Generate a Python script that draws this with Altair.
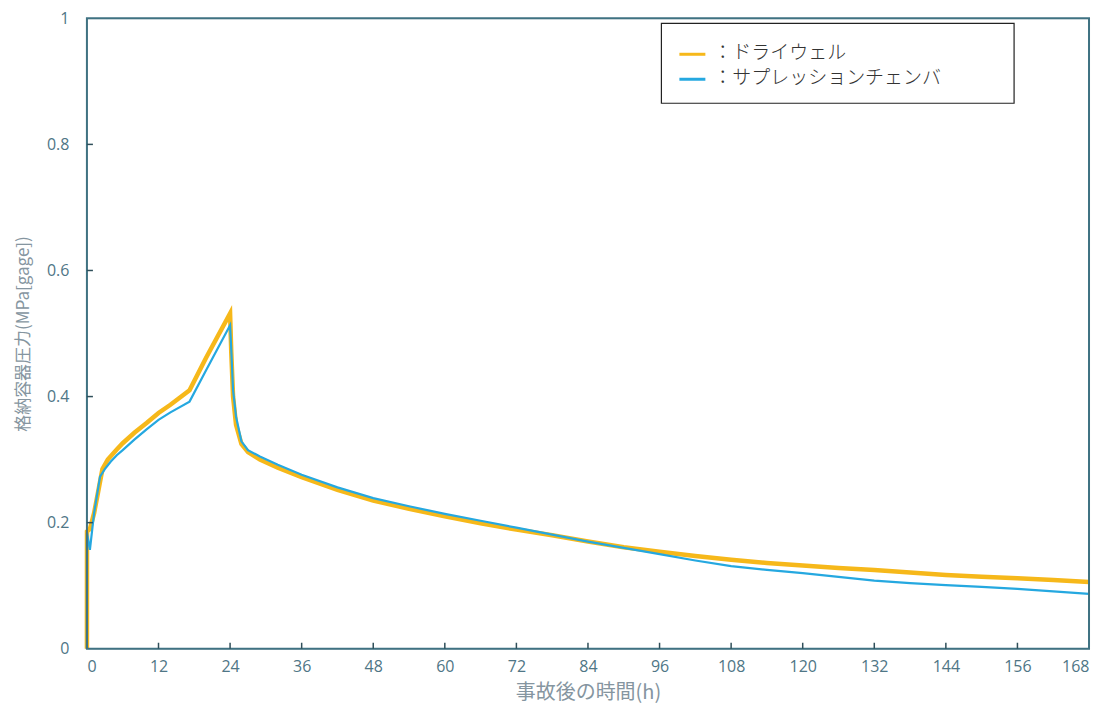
import altair as alt
import pandas as pd

# ---- data ----
series_names = ["ドライウェル", "サプレッションチェンバ"]
series_colors = ["#F6B81A", "#25A8E0"]

dw_t = [0, 0.01, 0.5, 1.2, 2.0, 2.6, 3.5, 5, 6, 8, 10, 12, 14, 17.2, 20, 24.0,
        24.2, 24.5, 25.0, 25.9, 27, 29, 32, 36, 42, 48, 54, 60, 66, 72, 78, 84,
        90, 96, 102, 108, 114, 120, 126, 132, 138, 144, 150, 156, 162, 168]
dw_v = [0, 0.186, 0.19, 0.215, 0.255, 0.285, 0.300, 0.316, 0.326, 0.343, 0.358, 0.374,
        0.387, 0.410, 0.462, 0.532,
        0.47, 0.40, 0.355, 0.325, 0.312, 0.300, 0.287, 0.272, 0.252, 0.235, 0.222,
        0.210, 0.199, 0.189, 0.180, 0.170, 0.161, 0.154, 0.147, 0.141, 0.136, 0.132,
        0.128, 0.125, 0.121, 0.117, 0.114, 0.112, 0.109, 0.106]

sc_t = [0, 0.01, 0.5, 1.2, 2.2, 3.0, 4, 5, 6, 8, 10, 12, 14, 17.2, 20, 24.0,
        24.2, 24.5, 25.0, 25.9, 27, 29, 32, 36, 42, 48, 54, 60, 66, 72, 78, 84,
        90, 96, 102, 108, 114, 120, 126, 132, 138, 144, 150, 156, 162, 168]
sc_v = [0, 0.184, 0.157, 0.215, 0.273, 0.285, 0.297, 0.307, 0.315, 0.332, 0.348, 0.363,
        0.375, 0.392, 0.442, 0.513,
        0.474, 0.41, 0.368, 0.329, 0.315, 0.305, 0.292, 0.276, 0.256, 0.239, 0.226,
        0.214, 0.203, 0.192, 0.181, 0.170, 0.160, 0.150, 0.140, 0.131, 0.125, 0.120,
        0.114, 0.108, 0.104, 0.101, 0.098, 0.095, 0.091, 0.087]

x_ticks = [0, 12, 24, 36, 48, 60, 72, 84, 96, 108, 120, 132, 144, 156, 168]
y_ticks = [0, 0.2, 0.4, 0.6, 0.8, 1.0]

W, H = 1003, 631

rows = []
for order, (n, ts, vs) in enumerate([(series_names[0], dw_t, dw_v), (series_names[1], sc_t, sc_v)]):
    for i, (t, v) in enumerate(zip(ts, vs)):
        rows.append({"series": n, "t": t, "v": v, "i": i, "o": order})
df = pd.DataFrame(rows)

xscale = alt.Scale(domain=[0, 168], nice=False, zero=False)
yscale = alt.Scale(domain=[0, 1], nice=False)

label_color = "#4f7686"
title_color = "#8595a0"
frame_color = "#3f7282"

x_axis = alt.Axis(values=x_ticks, title="事故後の時間(h)", grid=False, ticks=False,
                  domain=False, labelFont="Open Sans", labelFontSize=16,
                  labelColor=label_color, labelPadding=10,
                  titleFont="Noto Sans CJK JP", titleFontSize=20, titleFontWeight="normal",
                  titleColor=title_color, titlePadding=8)
y_axis = alt.Axis(values=y_ticks, title="格納容器圧力(MPa[gage])", grid=False, ticks=False,
                  domain=False, labelFont="Open Sans", labelFontSize=16,
                  labelColor=label_color, labelPadding=18,
                  labelExpr="datum.value == 1 ? '1' : datum.value == 0 ? '0' : format(datum.value, '.1f')",
                  titleFont="Noto Sans CJK JP", titleFontSize=17, titleFontWeight="normal",
                  titleColor=title_color, titlePadding=14)

color = alt.Color("series:N", scale=alt.Scale(domain=series_names, range=series_colors), legend=None)

orange = alt.Chart(df[df.series == series_names[0]]).mark_line(strokeWidth=4.5).encode(
    x=alt.X("t:Q", scale=xscale, axis=x_axis),
    y=alt.Y("v:Q", scale=yscale, axis=y_axis),
    order="i:Q",
    color=color,
)
blue = alt.Chart(df[df.series == series_names[1]]).mark_line(strokeWidth=2.2).encode(
    x=alt.X("t:Q", scale=xscale),
    y=alt.Y("v:Q", scale=yscale),
    order="i:Q",
    color=color,
)

# plot frame
frame = alt.Chart(pd.DataFrame({"a": [0]})).mark_rect(fill=None, fillOpacity=0, stroke=frame_color, strokeWidth=2).encode(
    x=alt.value(0), x2=alt.value(W), y=alt.value(0), y2=alt.value(H)
)

tick_color = "#2f4f5a"
xt = alt.Chart(pd.DataFrame({"t": x_ticks[1:-1]})).mark_rule(color=tick_color, strokeWidth=1.5).encode(
    x=alt.X("t:Q", scale=xscale),
    y=alt.value(H),
    y2=alt.value(H - 6),
)
yt = alt.Chart(pd.DataFrame({"v": y_ticks[1:-1]})).mark_rule(color=tick_color, strokeWidth=1.5).encode(
    y=alt.Y("v:Q", scale=yscale),
    x=alt.value(0),
    x2=alt.value(6),
)

# legend box (manual, matching the reference's boxed legend)
LX, LY, LW, LH = 575, 5, 353, 80
box = alt.Chart(pd.DataFrame({"a": [0]})).mark_rect(fill="white", stroke="#222222", strokeWidth=1.2).encode(
    x=alt.value(LX), x2=alt.value(LX + LW), y=alt.value(LY), y2=alt.value(LY + LH)
)
leg_df = pd.DataFrame({"series": series_names, "label": ["：" + s for s in series_names], "k": [0, 1]})
leg_lines = []
leg_texts = []
for k, n in enumerate(series_names):
    sub = leg_df[leg_df.k == k]
    leg_lines.append(alt.Chart(sub).mark_rule(strokeWidth=3).encode(
        x=alt.value(LX + 18), x2=alt.value(LX + 44), y=alt.value(LY + 31 + 25 * k),
        color=color))
    leg_texts.append(alt.Chart(sub).mark_text(align="left", baseline="middle", fontSize=19,
                                               font="Noto Sans CJK JP", fontWeight=300,
                                               color="#333333").encode(
        x=alt.value(LX + 52), y=alt.value(LY + 30 + 25 * k), text="label:N"))

chart = alt.layer(orange, blue, frame, xt, yt, box, *leg_lines, *leg_texts).properties(
    width=W, height=H,
    autosize=alt.AutoSizeParams(type="none"),
    padding={"left": 79, "top": 10, "right": 20, "bottom": 60},
).configure_view(stroke=None).configure(background="white")

chart.save("out.html", embed_options={"renderer": "svg", "actions": False})
